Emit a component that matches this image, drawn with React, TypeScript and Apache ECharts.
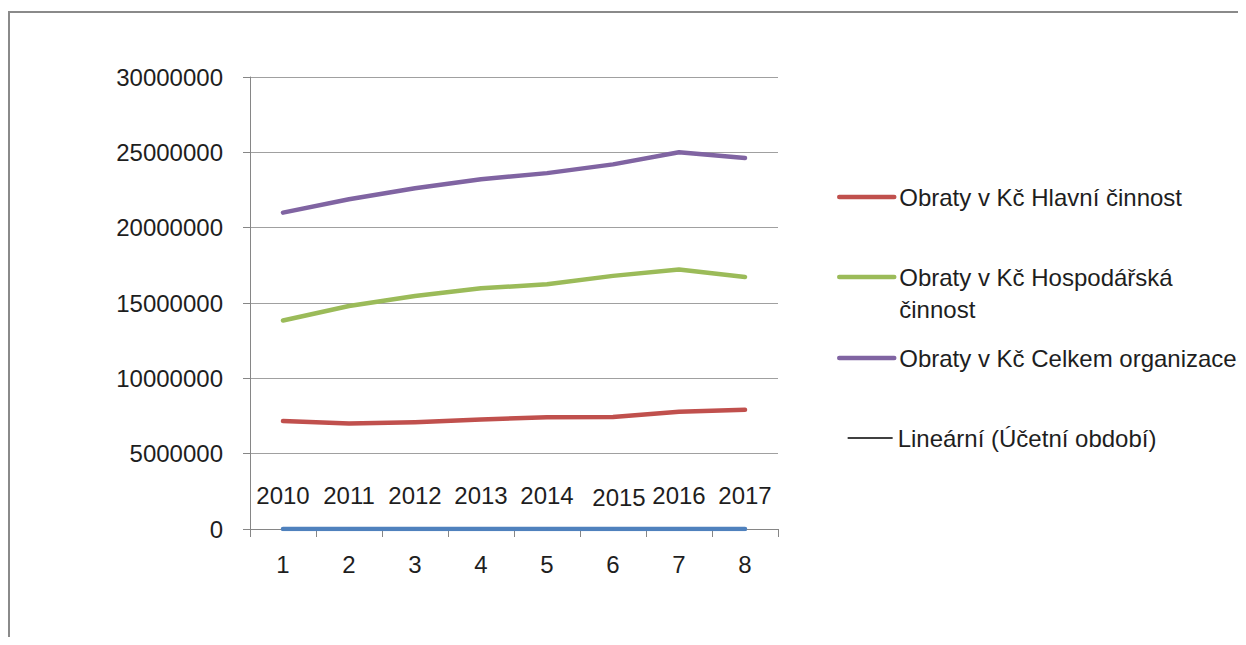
import React, { useEffect, useRef } from "react";
import * as echarts from "echarts";

const categories = ["1", "2", "3", "4", "5", "6", "7", "8"];
const years = ["2010", "2011", "2012", "2013", "2014", "2015", "2016", "2017"];
const hlavni = [7160000, 7000000, 7090000, 7270000, 7420000, 7440000, 7780000, 7910000];
const hospodarska = [13840000, 14800000, 15470000, 15980000, 16240000, 16800000, 17220000, 16730000];
const celkem = [21000000, 21890000, 22620000, 23220000, 23620000, 24200000, 25000000, 24620000];
const ucetni = [0, 0, 0, 0, 0, 0, 0, 0];
const trend = [0, 0, 0, 0, 0, 0, 0, 0];

const N1 = "Obraty v Kč Hlavní činnost";
const N2 = "Obraty v Kč Hospodářská činnost";
const N3 = "Obraty v Kč Celkem organizace";
const N4 = "Lineární (Účetní období)";
const N5 = "Účetní období";

const FONT = "Liberation Sans";
const TXT = "#1e1e1e";

export default function App() {
  const ref = useRef<HTMLDivElement>(null);
  useEffect(() => {
    if (!ref.current) return;
    const chart = echarts.init(ref.current, null, { renderer: "svg" });
    const legendText = { fontFamily: FONT, fontSize: 24, color: TXT, lineHeight: 32 };
    const hiddenSymbol = { opacity: 0, borderWidth: 0 };
    const thick = { width: 4.5, cap: "round" };
    chart.setOption({
      animation: false,
      backgroundColor: "#ffffff",
      textStyle: { fontFamily: FONT },
      graphic: [
        {
          type: "polyline",
          shape: { points: [[1, 640], [1, 4], [1250, 4]] },
          style: { stroke: "#8a8a8a", lineWidth: 2, fill: null },
          silent: true,
        },
      ],
      grid: { left: 242, top: 69, width: 528, height: 452, containLabel: false },
      legend: [
        {
          data: [N1], left: 829, top: 173, padding: 0, orient: "vertical",
          itemWidth: 55, itemHeight: 14, textStyle: legendText,
          itemStyle: hiddenSymbol, lineStyle: thick,
        },
        {
          data: [N2], left: 829, top: 221, padding: 0, orient: "vertical",
          itemWidth: 55, itemHeight: 14,
          formatter: () => "\nObraty v Kč Hospodářská\nčinnost",
          textStyle: legendText,
          itemStyle: hiddenSymbol, lineStyle: thick,
        },
        {
          data: [N3], left: 829, top: 334, padding: 0, orient: "vertical",
          itemWidth: 55, itemHeight: 14, textStyle: legendText,
          itemStyle: hiddenSymbol, lineStyle: thick,
        },
        {
          data: [N4], left: 839, top: 414, padding: 0, orient: "vertical",
          itemWidth: 45, itemHeight: 14, textStyle: legendText,
          itemStyle: hiddenSymbol, lineStyle: { width: 1.3, color: "#000000" },
        },
      ],
      xAxis: {
        type: "category",
        data: categories,
        boundaryGap: true,
        axisLine: { show: true, lineStyle: { color: "#868686", width: 1 } },
        axisTick: { show: true, length: 8, alignWithLabel: false, lineStyle: { color: "#868686" } },
        axisLabel: { color: TXT, fontSize: 24, fontFamily: FONT, margin: 23 },
        splitLine: { show: false },
      },
      yAxis: {
        type: "value",
        min: 0,
        max: 30000000,
        interval: 5000000,
        axisLine: { show: true, lineStyle: { color: "#868686", width: 1 } },
        axisTick: { show: true, length: 7, lineStyle: { color: "#868686" } },
        axisLabel: { color: TXT, fontSize: 24, fontFamily: FONT, margin: 27, formatter: (v: number) => String(v) },
        splitLine: { show: true, lineStyle: { color: "#a0a0a0", width: 1 } },
      },
      series: [
        {
          name: N4, type: "line", data: trend, symbol: "none", z: 1,
          lineStyle: { color: "#000000", width: 1 }, itemStyle: { color: "#000000" },
        },
        {
          name: N5, type: "line", symbol: "circle", symbolSize: 1, showSymbol: true, z: 2,
          data: ucetni.map((v, i) => ({ value: v, label: i === 5 ? { offset: [6, 2] } : {} })),
          lineStyle: { color: "#4F81BD", width: 4.5, cap: "round" },
          itemStyle: { color: "#4F81BD" },
          label: {
            show: true, position: "top", distance: 21, color: TXT, fontSize: 24, fontFamily: FONT,
            formatter: (p: any) => years[p.dataIndex],
          },
        },
        {
          name: N1, type: "line", data: hlavni, symbol: "none", z: 3,
          lineStyle: { color: "#C0504D", width: 4.5, cap: "round", join: "round" }, itemStyle: { color: "#C0504D" },
        },
        {
          name: N2, type: "line", data: hospodarska, symbol: "none", z: 3,
          lineStyle: { color: "#9BBB59", width: 4.5, cap: "round", join: "round" }, itemStyle: { color: "#9BBB59" },
        },
        {
          name: N3, type: "line", data: celkem, symbol: "none", z: 3,
          lineStyle: { color: "#8064A2", width: 4.5, cap: "round", join: "round" }, itemStyle: { color: "#8064A2" },
        },
      ],
    });
    return () => chart.dispose();
  }, []);
  return <div ref={ref} style={{ width: 1238, height: 629 }} />;
}
